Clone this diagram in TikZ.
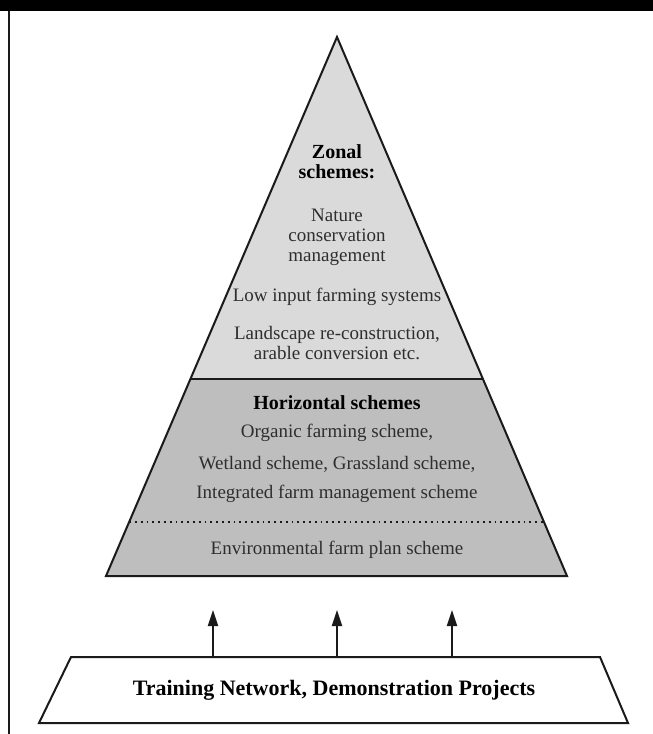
\documentclass[tikz,border=0pt]{standalone}
\usepackage{fontspec}
\setmainfont{Liberation Serif}
\usetikzlibrary{arrows.meta, calc}
\definecolor{czonal}{HTML}{DADADA}
\definecolor{choriz}{HTML}{BEBEBE}
\definecolor{ctext}{HTML}{2E2E2E}
\definecolor{cline}{HTML}{1A1A1A}

\begin{document}
\begin{tikzpicture}[
  x=0.5pt, y=-0.5pt,
  font=\fontsize{9.5}{10}\selectfont,
  >={Triangle[length=8pt, width=5pt]},
  edge/.style={draw=cline, line width=1pt},
  txt/.style={align=center, inner sep=0pt, text=ctext},
  head/.style={txt, text=black, font=\fontsize{10}{10}\selectfont\bfseries},
  arr/.style={->, line width=1pt, draw=cline, fill=cline},
  ]
\useasboundingbox (0,0) rectangle (653,734);
% ---- frame
\fill[black] (0,0) rectangle (653,11);
\draw[edge] (9,11) -- (9,734);
% ---- pyramid corners
\coordinate (apex) at (337,37);
\coordinate (bl)   at (106,576);
\coordinate (br)   at (567,576);
\coordinate (dl)   at ($(apex)!0.6345!(bl)$);
\coordinate (dr)   at ($(apex)!0.6345!(br)$);
\coordinate (pl)   at ($(apex)!0.9!(bl)$);
\coordinate (pr)   at ($(apex)!0.9!(br)$);
% ---- pyramid
\fill[czonal] (apex) -- (dl) -- (dr) -- cycle;
\fill[choriz] (dl) -- (bl) -- (br) -- (dr) -- cycle;
\draw[edge] (dl) -- (dr);
\draw[cline, dotted, line width=0.9pt] (pl) -- (pr);
\draw[edge, line join=miter] (apex) -- (bl) -- (br) -- cycle;
% ---- zonal texts
\node[head] (zonal)   at (337,162) {Zonal\\schemes:};
\node[txt]  (nature)  at (337,237) {Nature\\conservation\\management};
\node[txt]  (lowin)   at (337,297) {Low input farming systems};
\node[txt]  (landsc)  at (337,343) {Landscape re-construction,\\arable conversion etc.};
% ---- horizontal texts
\node[head] (horiz)   at (337,403) {Horizontal schemes};
\node[txt]  (organic) at (337,433) {Organic farming scheme,};
\node[txt]  (wetland) at (337,464) {Wetland scheme, Grassland scheme,};
\node[txt]  (integr)  at (337,494) {Integrated farm management scheme};
\node[txt]  (envplan) at (337,550) {Environmental farm plan scheme};
% ---- base
\coordinate (tl) at (71,657);
\coordinate (tr) at (600,657);
\coordinate (ur) at (628,723);
\coordinate (ul) at (39,723);
\draw[edge, line join=miter] (tl) -- (tr) -- (ur) -- (ul) -- cycle;
\node[head, font=\fontsize{11}{11}\selectfont\bfseries] (train) at (334,690)
  {Training Network, Demonstration Projects};
% ---- arrows
\coordinate (s1) at (213,657);  \coordinate (e1) at (213,610);
\coordinate (s2) at (337,657);  \coordinate (e2) at (337,610);
\coordinate (s3) at (452,657);  \coordinate (e3) at (452,610);
\draw[arr] (s1) -- (e1);
\draw[arr] (s2) -- (e2);
\draw[arr] (s3) -- (e3);
\end{tikzpicture}
\end{document}
